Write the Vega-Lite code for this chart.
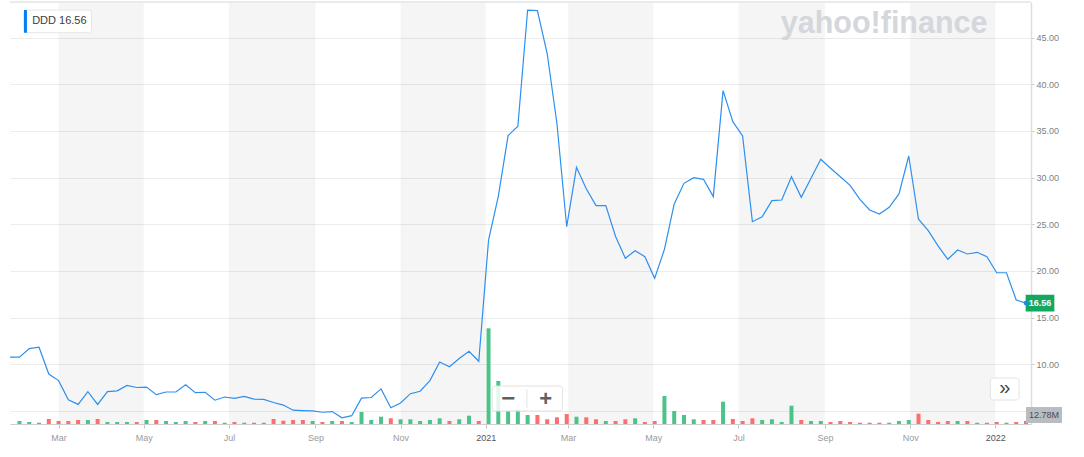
{
"$schema": "https://vega.github.io/schema/vega-lite/v6.json",
"width": 1021,
"height": 422,
"autosize": {"type": "none"},
"padding": {"left": 10, "top": 2, "right": 53, "bottom": 33},
"background": "#ffffff",
"config": {"view": {"stroke": null}, "font": "Liberation Sans"},
"datasets": {
"weekly": [
{"date":"2020-01-26","close":10.76,"vol":null,"dir":null},
{"date":"2020-02-02","close":10.76,"vol":12.8,"dir":"up"},
{"date":"2020-02-09","close":11.68,"vol":8.5,"dir":"up"},
{"date":"2020-02-16","close":11.83,"vol":5.5,"dir":"up"},
{"date":"2020-02-23","close":8.95,"vol":21.3,"dir":"down"},
{"date":"2020-03-01","close":8.25,"vol":12.8,"dir":"down"},
{"date":"2020-03-08","close":6.19,"vol":12.8,"dir":"down"},
{"date":"2020-03-15","close":5.70,"vol":17.1,"dir":"down"},
{"date":"2020-03-22","close":7.07,"vol":17.1,"dir":"up"},
{"date":"2020-03-29","close":5.70,"vol":21.3,"dir":"down"},
{"date":"2020-04-05","close":7.07,"vol":8.5,"dir":"up"},
{"date":"2020-04-12","close":7.15,"vol":8.5,"dir":"up"},
{"date":"2020-04-19","close":7.74,"vol":8.5,"dir":"up"},
{"date":"2020-04-26","close":7.51,"vol":8.5,"dir":"down"},
{"date":"2020-05-03","close":7.56,"vol":17.1,"dir":"up"},
{"date":"2020-05-10","close":6.74,"vol":17.1,"dir":"down"},
{"date":"2020-05-17","close":7.03,"vol":12.8,"dir":"up"},
{"date":"2020-05-24","close":7.03,"vol":8.5,"dir":"up"},
{"date":"2020-05-31","close":7.81,"vol":12.8,"dir":"up"},
{"date":"2020-06-07","close":6.96,"vol":8.5,"dir":"down"},
{"date":"2020-06-14","close":7.00,"vol":12.8,"dir":"up"},
{"date":"2020-06-21","close":6.15,"vol":12.8,"dir":"down"},
{"date":"2020-06-28","close":6.49,"vol":5.5,"dir":"up"},
{"date":"2020-07-05","close":6.34,"vol":8.5,"dir":"down"},
{"date":"2020-07-12","close":6.56,"vol":5.5,"dir":"up"},
{"date":"2020-07-19","close":6.26,"vol":5.5,"dir":"down"},
{"date":"2020-07-26","close":6.23,"vol":5.5,"dir":"up"},
{"date":"2020-08-02","close":5.90,"vol":21.3,"dir":"down"},
{"date":"2020-08-09","close":5.63,"vol":14.1,"dir":"down"},
{"date":"2020-08-16","close":5.08,"vol":17.1,"dir":"down"},
{"date":"2020-08-23","close":5.04,"vol":17.1,"dir":"down"},
{"date":"2020-08-30","close":5.01,"vol":12.8,"dir":"up"},
{"date":"2020-09-06","close":4.86,"vol":8.5,"dir":"down"},
{"date":"2020-09-13","close":4.93,"vol":12.8,"dir":"up"},
{"date":"2020-09-20","close":4.27,"vol":12.8,"dir":"down"},
{"date":"2020-09-27","close":4.49,"vol":8.5,"dir":"up"},
{"date":"2020-10-04","close":6.37,"vol":51.2,"dir":"up"},
{"date":"2020-10-11","close":6.44,"vol":17.1,"dir":"up"},
{"date":"2020-10-18","close":7.36,"vol":31.1,"dir":"up"},
{"date":"2020-10-25","close":5.34,"vol":24.3,"dir":"down"},
{"date":"2020-11-01","close":5.85,"vol":20.0,"dir":"up"},
{"date":"2020-11-08","close":6.85,"vol":20.0,"dir":"up"},
{"date":"2020-11-15","close":7.11,"vol":12.8,"dir":"up"},
{"date":"2020-11-22","close":8.25,"vol":17.1,"dir":"up"},
{"date":"2020-11-29","close":10.25,"vol":24.3,"dir":"up"},
{"date":"2020-12-06","close":9.73,"vol":12.8,"dir":"down"},
{"date":"2020-12-13","close":10.61,"vol":20.0,"dir":"up"},
{"date":"2020-12-20","close":11.39,"vol":35.4,"dir":"up"},
{"date":"2020-12-27","close":10.32,"vol":12.8,"dir":"down"},
{"date":"2021-01-03","close":23.3,"vol":408.2,"dir":"up"},
{"date":"2021-01-10","close":28.0,"vol":183.4,"dir":"up"},
{"date":"2021-01-17","close":34.5,"vol":55.4,"dir":"up"},
{"date":"2021-01-24","close":35.5,"vol":62.7,"dir":"up"},
{"date":"2021-01-31","close":47.96,"vol":38.4,"dir":"up"},
{"date":"2021-02-07","close":47.9,"vol":38.4,"dir":"down"},
{"date":"2021-02-14","close":43.3,"vol":20.0,"dir":"down"},
{"date":"2021-02-21","close":35.8,"vol":28.6,"dir":"down"},
{"date":"2021-02-28","close":24.74,"vol":42.7,"dir":"down"},
{"date":"2021-03-07","close":31.1,"vol":31.1,"dir":"up"},
{"date":"2021-03-14","close":28.8,"vol":28.6,"dir":"down"},
{"date":"2021-03-21","close":27.0,"vol":20.0,"dir":"down"},
{"date":"2021-03-28","close":27.0,"vol":12.8,"dir":"up"},
{"date":"2021-04-04","close":23.7,"vol":12.8,"dir":"down"},
{"date":"2021-04-11","close":21.36,"vol":20.0,"dir":"down"},
{"date":"2021-04-18","close":22.17,"vol":24.3,"dir":"up"},
{"date":"2021-04-25","close":21.53,"vol":8.5,"dir":"down"},
{"date":"2021-05-02","close":19.21,"vol":12.8,"dir":"down"},
{"date":"2021-05-09","close":22.32,"vol":119.4,"dir":"up"},
{"date":"2021-05-16","close":27.18,"vol":55.4,"dir":"up"},
{"date":"2021-05-23","close":29.39,"vol":38.4,"dir":"up"},
{"date":"2021-05-30","close":29.99,"vol":20.0,"dir":"up"},
{"date":"2021-06-06","close":29.82,"vol":17.1,"dir":"down"},
{"date":"2021-06-13","close":27.96,"vol":17.1,"dir":"down"},
{"date":"2021-06-20","close":39.32,"vol":95.1,"dir":"up"},
{"date":"2021-06-27","close":36.0,"vol":21.3,"dir":"down"},
{"date":"2021-07-04","close":34.46,"vol":12.8,"dir":"down"},
{"date":"2021-07-11","close":25.28,"vol":24.3,"dir":"down"},
{"date":"2021-07-18","close":25.81,"vol":17.1,"dir":"up"},
{"date":"2021-07-25","close":27.53,"vol":20.0,"dir":"up"},
{"date":"2021-08-01","close":27.6,"vol":8.5,"dir":"up"},
{"date":"2021-08-08","close":30.1,"vol":78.0,"dir":"up"},
{"date":"2021-08-15","close":27.89,"vol":17.1,"dir":"down"},
{"date":"2021-08-22","close":29.93,"vol":12.8,"dir":"up"},
{"date":"2021-08-29","close":31.96,"vol":12.8,"dir":"up"},
{"date":"2021-09-05","close":31.0,"vol":8.5,"dir":"down"},
{"date":"2021-09-12","close":30.1,"vol":12.8,"dir":"down"},
{"date":"2021-09-19","close":29.18,"vol":8.5,"dir":"down"},
{"date":"2021-09-26","close":27.68,"vol":5.5,"dir":"down"},
{"date":"2021-10-03","close":26.53,"vol":5.5,"dir":"down"},
{"date":"2021-10-10","close":26.10,"vol":5.5,"dir":"down"},
{"date":"2021-10-17","close":26.82,"vol":5.5,"dir":"up"},
{"date":"2021-10-24","close":28.25,"vol":12.8,"dir":"up"},
{"date":"2021-10-31","close":32.32,"vol":17.1,"dir":"up"},
{"date":"2021-11-07","close":25.54,"vol":43.9,"dir":"down"},
{"date":"2021-11-14","close":24.31,"vol":17.1,"dir":"down"},
{"date":"2021-11-21","close":22.68,"vol":8.5,"dir":"down"},
{"date":"2021-11-28","close":21.25,"vol":12.8,"dir":"down"},
{"date":"2021-12-05","close":22.25,"vol":12.8,"dir":"up"},
{"date":"2021-12-12","close":21.82,"vol":12.8,"dir":"down"},
{"date":"2021-12-19","close":22.0,"vol":5.5,"dir":"up"},
{"date":"2021-12-26","close":21.53,"vol":5.5,"dir":"down"},
{"date":"2022-01-02","close":19.81,"vol":8.5,"dir":"down"},
{"date":"2022-01-09","close":19.81,"vol":5.5,"dir":"up"},
{"date":"2022-01-16","close":16.89,"vol":8.5,"dir":"down"},
{"date":"2022-01-23","close":16.56,"vol":12.78,"dir":"down"}
],
"bands": [
{"start":"2020-03-01","end":"2020-05-01"},
{"start":"2020-07-01","end":"2020-09-01"},
{"start":"2020-11-01","end":"2021-01-01"},
{"start":"2021-03-01","end":"2021-05-01"},
{"start":"2021-07-01","end":"2021-09-01"},
{"start":"2021-11-01","end":"2022-01-01"}
]
},
"layer": [
{
"data": {"name": "bands"},
"mark": {"type": "rect", "fill": "#000000", "fillOpacity": 0.04},
"encoding": {
"x": {"field": "start", "type": "temporal", "scale": {"type": "utc", "domain": [{"year":2020,"month":1,"date":29,"hours":19,"utc":true},{"year":2022,"month":1,"date":23,"utc":true}]}},
"x2": {"field": "end"}
}
},
{
"data": {"name": "weekly"},
"transform": [{"filter": "datum.vol != null"}],
"layer": [
{
"mark": {"type": "bar", "size": 4, "clip": true},
"encoding": {
"x": {"field": "date", "type": "temporal", "scale": {"type": "utc", "domain": [{"year":2020,"month":1,"date":29,"hours":19,"utc":true},{"year":2022,"month":1,"date":23,"utc":true}]}},
"y": {"field": "vol", "type": "quantitative", "axis": null, "scale": {"domain": [0, 1800], "nice": false, "zero": true}},
"color": {"field": "dir", "type": "nominal", "legend": null, "scale": {"domain": ["up", "down"], "range": ["#4cc38a", "#ff6d6d"]}}
}
},
{
"transform": [{"window": [{"op": "row_number", "as": "rn"}], "sort": [{"field": "date", "order": "descending"}]}, {"filter": "datum.rn == 1"}],
"mark": {"type": "point", "shape": "M-1,-0.444H1V0.444H-1Z", "size": 1296, "filled": true, "color": "#b9bcc3", "opacity": 1, "strokeWidth": 0, "xOffset": 18, "yOffset": -6},
"encoding": {
"x": {"field": "date", "type": "temporal", "scale": {"type": "utc", "domain": [{"year":2020,"month":1,"date":29,"hours":19,"utc":true},{"year":2022,"month":1,"date":23,"utc":true}]}},
"y": {"field": "vol", "type": "quantitative", "axis": null, "scale": {"domain": [0, 1800], "nice": false, "zero": true}}
}
},
{
"transform": [{"window": [{"op": "row_number", "as": "rn"}], "sort": [{"field": "date", "order": "descending"}]}, {"filter": "datum.rn == 1"}, {"calculate": "format(datum.vol, '.2f') + 'M'", "as": "vlabel"}],
"mark": {"type": "text", "dx": 18, "dy": -6, "align": "center", "baseline": "middle", "fontSize": 9, "color": "#4d4d4d"},
"encoding": {
"x": {"field": "date", "type": "temporal", "scale": {"type": "utc", "domain": [{"year":2020,"month":1,"date":29,"hours":19,"utc":true},{"year":2022,"month":1,"date":23,"utc":true}]}},
"y": {"field": "vol", "type": "quantitative", "axis": null, "scale": {"domain": [0, 1800], "nice": false, "zero": true}},
"text": {"field": "vlabel"}
}
}
]
},
{
"layer": [
{
"data": {"values": [{}]},
"mark": {"type": "rule", "color": "#e2e5ea", "strokeWidth": 1.5},
"encoding": {
"y": {"datum": 48.82, "type": "quantitative", "scale": {"domain": [3.6, 48.82], "nice": false, "zero": false}}
}
},
{
"data": {"values": [{}]},
"mark": {"type": "text", "text": "yahoo!finance", "fontSize": 30.5, "fontWeight": "bold", "color": "#d4d7dc", "align": "center", "baseline": "alphabetic"},
"encoding": {
"x": {"datum": {"year":2021,"month":10,"date":13,"hours":9,"utc":true}, "type": "temporal", "scale": {"type": "utc", "domain": [{"year":2020,"month":1,"date":29,"hours":19,"utc":true},{"year":2022,"month":1,"date":23,"utc":true}]}},
"y": {"datum": 45.5, "type": "quantitative", "scale": {"domain": [3.6, 48.82], "nice": false, "zero": false}}
}
},
{
"data": {"name": "weekly"},
"mark": {"type": "line", "color": "#2d8ff0", "strokeWidth": 1.2, "clip": true},
"encoding": {
"x": {"field": "date", "type": "temporal", "scale": {"type": "utc", "domain": [{"year":2020,"month":1,"date":29,"hours":19,"utc":true},{"year":2022,"month":1,"date":23,"utc":true}]},
"axis": {"title": null, "grid": false, "values": [{"year":2020,"month":3,"date":1,"utc":true},{"year":2020,"month":5,"date":1,"utc":true},{"year":2020,"month":7,"date":1,"utc":true},{"year":2020,"month":9,"date":1,"utc":true},{"year":2020,"month":11,"date":1,"utc":true},{"year":2021,"month":1,"date":1,"utc":true},{"year":2021,"month":3,"date":1,"utc":true},{"year":2021,"month":5,"date":1,"utc":true},{"year":2021,"month":7,"date":1,"utc":true},{"year":2021,"month":9,"date":1,"utc":true},{"year":2021,"month":11,"date":1,"utc":true},{"year":2022,"month":1,"date":1,"utc":true}],
"labelExpr": "utcmonth(datum.value) == 0 ? utcFormat(datum.value, '%Y') : utcFormat(datum.value, '%b')",
"labelColor": {"condition": {"test": "utcmonth(datum.value) == 0", "value": "#555555"}, "value": "#9a9a9a"},
"labelFontSize": 9, "labelPadding": 5, "labelFlush": false, "labelOverlap": false,
"tickSize": 4, "tickColor": "#c8c8c8", "domainColor": "#cfcfcf", "domainWidth": 1}},
"y": {"field": "close", "type": "quantitative", "scale": {"domain": [3.6, 48.82], "nice": false, "zero": false},
"axis": {"orient": "right", "title": null, "values": [5, 10, 15, 20, 25, 30, 35, 40, 45],
"labelExpr": "datum.value == 5 ? '' : format(datum.value, '.2f')",
"grid": true, "gridColor": "#ececec", "gridWidth": 1,
"domainColor": "#dddddd", "domainWidth": 1.5, "tickColor": "#cccccc", "tickSize": 3,
"labelFontSize": 9, "labelColor": "#808080", "labelPadding": 2}}
}
},
{
"data": {"name": "weekly"},
"transform": [{"window": [{"op": "row_number", "as": "rn"}], "sort": [{"field": "date", "order": "descending"}]}, {"filter": "datum.rn == 1"}],
"layer": [
{
"mark": {"type": "point", "shape": "M-1.12,0L-1,-0.12V-0.582H1V0.582H-1V0.12Z", "size": 824, "filled": true, "color": "#13a760", "opacity": 1, "strokeWidth": 0, "xOffset": 14},
"encoding": {
"x": {"field": "date", "type": "temporal", "scale": {"type": "utc", "domain": [{"year":2020,"month":1,"date":29,"hours":19,"utc":true},{"year":2022,"month":1,"date":23,"utc":true}]}},
"y": {"field": "close", "type": "quantitative", "scale": {"domain": [3.6, 48.82], "nice": false, "zero": false}}
}
},
{
"mark": {"type": "text", "dx": 14, "align": "center", "baseline": "middle", "fontSize": 9, "fontWeight": "bold", "color": "#ffffff"},
"encoding": {
"x": {"field": "date", "type": "temporal", "scale": {"type": "utc", "domain": [{"year":2020,"month":1,"date":29,"hours":19,"utc":true},{"year":2022,"month":1,"date":23,"utc":true}]}},
"y": {"field": "close", "type": "quantitative", "scale": {"domain": [3.6, 48.82], "nice": false, "zero": false}},
"text": {"field": "close", "format": ".2f"}
}
},
{
"mark": {"type": "point", "filled": true, "color": "#1e88f0", "opacity": 1, "size": 22},
"encoding": {
"x": {"field": "date", "type": "temporal", "scale": {"type": "utc", "domain": [{"year":2020,"month":1,"date":29,"hours":19,"utc":true},{"year":2022,"month":1,"date":23,"utc":true}]}},
"y": {"field": "close", "type": "quantitative", "scale": {"domain": [3.6, 48.82], "nice": false, "zero": false}}
}
}
]
},
{
"data": {"values": [{}]},
"layer": [
{
"mark": {"type": "rect", "fill": "#ffffff", "stroke": "#e6e6e6", "strokeWidth": 1, "cornerRadius": 3},
"encoding": {
"x": {"datum": {"year":2020,"month":2,"date":5,"hours":5,"utc":true}, "type": "temporal", "scale": {"type": "utc", "domain": [{"year":2020,"month":1,"date":29,"hours":19,"utc":true},{"year":2022,"month":1,"date":23,"utc":true}]}},
"x2": {"datum": {"year":2020,"month":3,"date":24,"hours":14,"utc":true}},
"y": {"datum": 47.96, "type": "quantitative", "scale": {"domain": [3.6, 48.82], "nice": false, "zero": false}},
"y2": {"datum": 45.53}
}
},
{
"mark": {"type": "rect", "fill": "#0081f2"},
"encoding": {
"x": {"datum": {"year":2020,"month":2,"date":5,"hours":5,"utc":true}, "type": "temporal", "scale": {"type": "utc", "domain": [{"year":2020,"month":1,"date":29,"hours":19,"utc":true},{"year":2022,"month":1,"date":23,"utc":true}]}},
"x2": {"datum": {"year":2020,"month":2,"date":7,"hours":8,"utc":true}},
"y": {"datum": 47.96, "type": "quantitative", "scale": {"domain": [3.6, 48.82], "nice": false, "zero": false}},
"y2": {"datum": 45.53}
}
},
{
"mark": {"type": "text", "text": "DDD 16.56", "fontSize": 11, "color": "#3c3c3c", "align": "left", "baseline": "middle"},
"encoding": {
"x": {"datum": {"year":2020,"month":2,"date":11,"hours":2,"utc":true}, "type": "temporal", "scale": {"type": "utc", "domain": [{"year":2020,"month":1,"date":29,"hours":19,"utc":true},{"year":2022,"month":1,"date":23,"utc":true}]}},
"y": {"datum": 46.75, "type": "quantitative", "scale": {"domain": [3.6, 48.82], "nice": false, "zero": false}}
}
},
{
"mark": {"type": "rect", "fill": "#ffffff", "fillOpacity": 0.85, "stroke": "#e3e3e3", "strokeWidth": 1, "cornerRadius": 3},
"encoding": {
"x": {"datum": {"year":2021,"month":1,"date":5,"hours":16,"utc":true}, "type": "temporal", "scale": {"type": "utc", "domain": [{"year":2020,"month":1,"date":29,"hours":19,"utc":true},{"year":2022,"month":1,"date":23,"utc":true}]}},
"x2": {"datum": {"year":2021,"month":2,"date":25,"hours":1,"utc":true}},
"y": {"datum": 7.67, "type": "quantitative", "scale": {"domain": [3.6, 48.82], "nice": false, "zero": false}},
"y2": {"datum": 4.99}
}
},
{
"mark": {"type": "rule", "color": "#e3e3e3", "strokeWidth": 1},
"encoding": {
"x": {"datum": {"year":2021,"month":1,"date":30,"hours":12,"utc":true}, "type": "temporal", "scale": {"type": "utc", "domain": [{"year":2020,"month":1,"date":29,"hours":19,"utc":true},{"year":2022,"month":1,"date":23,"utc":true}]}},
"y": {"datum": 7.35, "type": "quantitative", "scale": {"domain": [3.6, 48.82], "nice": false, "zero": false}},
"y2": {"datum": 5.32}
}
},
{
"mark": {"type": "text", "text": "−", "fontSize": 24, "fontWeight": "bold", "color": "#5f5f5f", "align": "center", "baseline": "middle"},
"encoding": {
"x": {"datum": {"year":2021,"month":1,"date":17,"hours":1,"utc":true}, "type": "temporal", "scale": {"type": "utc", "domain": [{"year":2020,"month":1,"date":29,"hours":19,"utc":true},{"year":2022,"month":1,"date":23,"utc":true}]}},
"y": {"datum": 6.33, "type": "quantitative", "scale": {"domain": [3.6, 48.82], "nice": false, "zero": false}}
}
},
{
"mark": {"type": "text", "text": "+", "fontSize": 22, "fontWeight": "bold", "color": "#5f5f5f", "align": "center", "baseline": "middle"},
"encoding": {
"x": {"datum": {"year":2021,"month":2,"date":13,"utc":true}, "type": "temporal", "scale": {"type": "utc", "domain": [{"year":2020,"month":1,"date":29,"hours":19,"utc":true},{"year":2022,"month":1,"date":23,"utc":true}]}},
"y": {"datum": 6.33, "type": "quantitative", "scale": {"domain": [3.6, 48.82], "nice": false, "zero": false}}
}
},
{
"mark": {"type": "rect", "fill": "#ffffff", "stroke": "#e3e3e3", "strokeWidth": 1, "cornerRadius": 3},
"encoding": {
"x": {"datum": {"year":2021,"month":12,"date":28,"hours":11,"utc":true}, "type": "temporal", "scale": {"type": "utc", "domain": [{"year":2020,"month":1,"date":29,"hours":19,"utc":true},{"year":2022,"month":1,"date":23,"utc":true}]}},
"x2": {"datum": {"year":2022,"month":1,"date":18,"hours":1,"utc":true}},
"y": {"datum": 8.53, "type": "quantitative", "scale": {"domain": [3.6, 48.82], "nice": false, "zero": false}},
"y2": {"datum": 6.17}
}
},
{
"mark": {"type": "text", "text": "»", "fontSize": 20, "color": "#444444", "align": "center", "baseline": "middle"},
"encoding": {
"x": {"datum": {"year":2022,"month":1,"date":7,"hours":18,"utc":true}, "type": "temporal", "scale": {"type": "utc", "domain": [{"year":2020,"month":1,"date":29,"hours":19,"utc":true},{"year":2022,"month":1,"date":23,"utc":true}]}},
"y": {"datum": 7.5, "type": "quantitative", "scale": {"domain": [3.6, 48.82], "nice": false, "zero": false}}
}
}
]
}
]
}
],
"resolve": {"scale": {"y": "independent"}}
}
